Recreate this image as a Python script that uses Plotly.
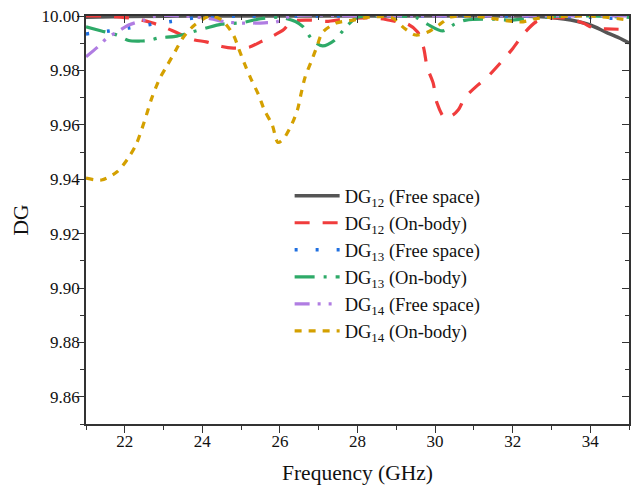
import plotly.graph_objects as go

# ---- data ----
f_dg12_fs = [21.0, 22.0, 24.0, 26.0, 28.0, 30.0, 32.0, 32.6, 33.1, 33.5, 34.0, 34.4, 34.75, 35.0]
dg12_fs = [9.9995, 9.9998, 10.0, 10.0, 10.0, 10.0, 10.0, 9.9998, 9.9993, 9.9985, 9.9967, 9.9941, 9.9919, 9.9901]

f_dg12_ob = [21.0, 21.4, 21.9, 22.3, 22.7, 23.0, 23.4, 23.8, 24.1, 24.5, 24.8, 25.2, 25.5, 25.8, 26.1, 26.3,
             26.8, 27.2, 27.7, 28.2, 28.6, 29.0, 29.3, 29.55, 29.7, 29.8, 29.95, 30.05, 30.25, 30.45, 30.6,
             30.77, 31.1, 31.35, 31.7, 32.0, 32.3, 32.6, 33.0, 33.4, 33.8, 34.1, 34.4, 35.0]
dg12_ob = [10.0, 10.0, 9.9996, 9.9989, 9.9975, 9.996, 9.9935, 9.9912, 9.9905, 9.9888, 9.9882, 9.9885, 9.9905, 9.9925, 9.995, 9.998,
           9.9985, 9.998, 9.999, 9.9993, 9.999, 9.998, 9.997, 9.9941, 9.9886, 9.981, 9.9754, 9.968, 9.9625, 9.9635, 9.9655,
           9.970, 9.9746, 9.9776, 9.983, 9.988, 9.9937, 9.9978, 9.9993, 9.9992, 9.9975, 9.9955, 9.9953, 9.995]

f_dg13_fs = [21.0, 21.6, 22.1, 22.7, 23.2, 23.8, 24.3, 24.9, 26.0, 28.0, 30.0, 32.0, 34.0, 35.0]
dg13_fs = [9.9934, 9.9945, 9.9956, 9.997, 9.998, 9.9993, 9.9997, 10.0, 10.0, 10.0, 10.0, 10.0, 9.9995, 9.9988]

f_dg13_ob = [21.0, 21.4, 21.8, 22.1, 22.4, 22.6, 22.9, 23.3, 23.7, 24.1, 24.5, 25.0, 25.5, 26.0, 26.4, 26.6,
             26.85, 27.1, 27.4, 27.75, 28.0, 28.5, 29.0, 29.5, 29.8, 30.2, 30.5, 30.8, 31.5, 32.0, 32.5, 33.0, 34.0, 35.0]
dg13_ob = [9.996, 9.9945, 9.993, 9.991, 9.9908, 9.991, 9.992, 9.9925, 9.994, 9.9956, 9.997, 9.9975, 9.999, 9.9995, 9.998, 9.996,
           9.991, 9.989, 9.991, 9.9967, 9.9995, 10.0, 10.0, 9.9995, 9.997, 9.9945, 9.997, 9.9985, 9.9988, 9.9985, 9.9993, 9.9998, 10.0, 9.9995]

f_dg14_fs = [21.0, 21.3, 21.55, 21.8, 22.1, 22.5, 22.8, 23.5, 24.2, 24.6, 25.0, 25.3, 25.6, 25.9, 26.3, 28.0, 30.0, 32.0, 34.0, 35.0]
dg14_fs = [9.985, 9.9886, 9.992, 9.9941, 9.9967, 9.9985, 10.0, 10.0, 9.999, 9.9978, 9.9974, 9.9974, 9.9975, 9.9978, 10.0, 10.0, 10.0, 10.0, 10.0, 10.0]

f_dg14_ob = [21.0, 21.4, 21.8, 22.1, 22.3, 22.5, 22.7, 22.9, 23.1, 23.3, 23.5, 23.8, 24.2, 24.5, 24.8, 24.95,
             25.1, 25.25, 25.45, 25.6, 25.8, 25.95, 26.1, 26.3, 26.45, 26.55, 26.65, 26.8, 26.95, 27.1, 27.45,
             27.9, 28.3, 28.9, 29.2, 29.5, 29.8, 30.1, 30.4, 31.0, 32.2, 32.6, 33.0, 34.0, 35.0]
dg14_ob = [9.9404, 9.9397, 9.9427, 9.948, 9.953, 9.961, 9.970, 9.977, 9.982, 9.987, 9.992, 9.9967, 10.0, 9.9985, 9.993, 9.9875,
           9.982, 9.977, 9.971, 9.9654, 9.960, 9.9535, 9.955, 9.960, 9.9654, 9.9717, 9.9776, 9.983, 9.9886, 9.994, 9.9974,
           9.9985, 9.9996, 9.9993, 9.9956, 9.993, 9.994, 9.9967, 9.9996, 10.0, 9.9978, 9.999, 9.9996, 10.0, 9.9985]

names = ["DG<sub>12</sub> (Free space)", "DG<sub>12</sub> (On-body)",
         "DG<sub>13</sub> (Free space)", "DG<sub>13</sub> (On-body)",
         "DG<sub>14</sub> (Free space)", "DG<sub>14</sub> (On-body)"]

x_ticks = [22, 24, 26, 28, 30, 32, 34]
y_ticks = [9.86, 9.88, 9.90, 9.92, 9.94, 9.96, 9.98, 10.00]

series = [
    (f_dg12_fs, dg12_fs, "#555555", "solid", 3.5),
    (f_dg12_ob, dg12_ob, "#F03C3C", "15px,13px", 3.2),
    (f_dg13_fs, dg13_fs, "#1F6FE0", "3px,18px", 3.5),
    (f_dg13_ob, dg13_ob, "#2EAA68", "20px,9px,3px,9px", 3.2),
    (f_dg14_fs, dg14_fs, "#B07DE2", "15px,8px,3px,8px,3px,8px", 3.2),
    (f_dg14_ob, dg14_ob, "#D4A000", "7px,7px", 3.2),
]

FONT = "Liberation Serif"
AX = "#333333"

fig = go.Figure()
for i, ((xs, ys, col, dash, w), nm) in enumerate(zip(series, names)):
    fig.add_trace(go.Scatter(x=xs, y=ys, mode="lines", name=nm, legendgroup=f"g{i}",
                             line=dict(color=col, dash=dash, width=w, shape="spline", smoothing=0.8)))

# invisible helper trace for mirrored inward ticks on top/right
fig.add_trace(go.Scatter(x=[21, 35], y=[9.85, 10.0], xaxis="x2", yaxis="y2", mode="lines",
                         line=dict(width=0), showlegend=False, hoverinfo="skip", opacity=0))

fig.update_layout(
    width=641, height=486,
    margin=dict(l=86, r=12, t=16, b=62),
    paper_bgcolor="white", plot_bgcolor="white",
    font=dict(family=FONT, size=17, color="#111111"),
    showlegend=True,
    legend=dict(x=0.375, y=0.605, xanchor="left", yanchor="top",
                bgcolor="rgba(0,0,0,0)", font=dict(family=FONT, size=18.5, color="#111111"),
                itemwidth=45, tracegroupgap=0),
    xaxis=dict(range=[21, 35], tickvals=x_ticks, ticktext=[str(v) for v in x_ticks], automargin=False,
               showgrid=False, zeroline=False, showline=True, linecolor=AX, linewidth=1.5,
               ticks="outside", ticklen=7, tickwidth=1.3, tickcolor=AX, ticklabelstandoff=-6,
               minor=dict(dtick=1, tick0=21, ticks="outside", ticklen=4, tickwidth=1.2, tickcolor=AX),
               title=dict(text="Frequency (GHz)", font=dict(family=FONT, size=21.5), standoff=15),
               tickfont=dict(family=FONT, size=17)),
    yaxis=dict(range=[9.85, 10.0], tickvals=y_ticks, ticktext=[f"{v:.2f}" for v in y_ticks], automargin=False,
               showgrid=False, zeroline=False, showline=True, linecolor=AX, linewidth=1.5,
               ticks="outside", ticklen=7, tickwidth=1.3, tickcolor=AX, ticklabelstandoff=-6,
               minor=dict(dtick=0.01, tick0=9.85, ticks="outside", ticklen=4, tickwidth=1.2, tickcolor=AX),
               title=dict(text="DG", font=dict(family=FONT, size=21.5), standoff=7),
               tickfont=dict(family=FONT, size=17)),
    xaxis2=dict(range=[21, 35], overlaying="x", side="top", anchor="y", tickvals=x_ticks, automargin=False,
                showticklabels=False, showgrid=False, zeroline=False, showline=True, linecolor=AX, linewidth=1.5,
                ticks="inside", ticklen=7, tickwidth=1.3, tickcolor=AX,
                minor=dict(dtick=1, tick0=21, ticks="inside", ticklen=4, tickwidth=1.2, tickcolor=AX)),
    yaxis2=dict(range=[9.85, 10.0], overlaying="y", side="right", anchor="x", tickvals=y_ticks, automargin=False,
                showticklabels=False, showgrid=False, zeroline=False, showline=True, linecolor=AX, linewidth=1.5,
                ticks="inside", ticklen=7, tickwidth=1.3, tickcolor=AX,
                minor=dict(dtick=0.01, tick0=9.85, ticks="inside", ticklen=4, tickwidth=1.2, tickcolor=AX)),
)

fig.write_html("out.html")
